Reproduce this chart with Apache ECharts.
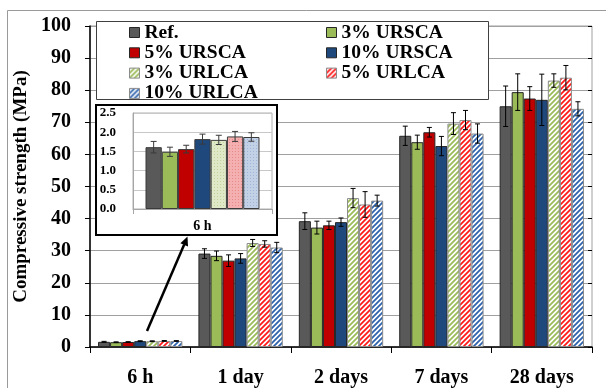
<!DOCTYPE html>
<html>
<head>
<meta charset="utf-8">
<script src="https://cdn.jsdelivr.net/npm/echarts@6/dist/echarts.min.js"></script>
<style>
  html, body { margin: 0; padding: 0; background: #fff; }
  #chart { width: 606px; height: 388px; }
</style>
</head>
<body>
<div id="chart"></div>
<script>
// Curing ages and mixes
const categories = ['6 h', '1 day', '2 days', '7 days', '28 days'];
const insetCategories = ['6 h'];
const seriesNames = ['Ref.', '3% URSCA', '5% URSCA', '10% URSCA', '3% URLCA', '5% URLCA', '10% URLCA'];

// Mean compressive strength (MPa) per age
const refMean   = [1.61, 29.1, 39.2, 65.8, 75.0];
const ursca3    = [1.49, 28.4, 37.2, 63.8, 79.4];
const ursca5    = [1.56, 26.9, 37.9, 66.9, 77.4];
const ursca10   = [1.82, 27.6, 38.9, 62.6, 77.0];
const urlca3    = [1.80, 32.4, 46.4, 69.6, 83.0];
const urlca5    = [1.89, 32.1, 44.4, 70.7, 83.9];
const urlca10   = [1.875, 31.0, 45.6, 66.5, 74.2];

// Standard deviation (MPa) per age
const refSd     = [0.15, 1.5, 2.6, 3.0, 6.3];
const ursca3Sd  = [0.12, 1.5, 2.0, 2.2, 5.7];
const ursca5Sd  = [0.10, 1.8, 1.3, 1.5, 3.7];
const ursca10Sd = [0.13, 1.5, 1.3, 3.0, 8.0];
const urlca3Sd  = [0.12, 1.1, 3.0, 3.4, 2.1];
const urlca5Sd  = [0.13, 1.0, 4.0, 3.0, 3.8];
const urlca10Sd = [0.11, 1.6, 1.7, 3.0, 2.2];

// Tick labels
const mainYTicks  = [0, 10, 20, 30, 40, 50, 60, 70, 80, 90, 100];
const insetYTicks = [0.0, 0.5, 1.0, 1.5, 2.0, 2.5];

const means = [refMean, ursca3, ursca5, ursca10, urlca3, urlca5, urlca10];
const sds   = [refSd, ursca3Sd, ursca5Sd, ursca10Sd, urlca3Sd, urlca5Sd, urlca10Sd];

const FONT = 'Liberation Serif';

// Diagonal "/" hatch on white
function stripes(color) {
  const s = 5;
  const c = document.createElement('canvas');
  c.width = c.height = s;
  const g = c.getContext('2d');
  g.fillStyle = '#fff';
  g.fillRect(0, 0, s, s);
  g.strokeStyle = color;
  g.lineWidth = 1.8;
  g.beginPath();
  g.moveTo(-1, s + 1); g.lineTo(s + 1, -1);
  g.moveTo(-1, 1); g.lineTo(1, -1);
  g.moveTo(s - 1, s + 1); g.lineTo(s + 1, s - 1);
  g.stroke();
  return { image: c, repeat: 'repeat' };
}

// Fine dotted texture for the inset's light fills
function dots(bg, dot) {
  const c = document.createElement('canvas');
  c.width = c.height = 3;
  const g = c.getContext('2d');
  g.fillStyle = bg;
  g.fillRect(0, 0, 3, 3);
  g.fillStyle = dot;
  g.fillRect(1, 1, 1, 1);
  return { image: c, repeat: 'repeat' };
}

const mainFills = [
  '#595959', '#9bbb59', '#c00000', '#1f497d',
  stripes('#9bbb59'), stripes('#ff1a1a'), stripes('#2f64ad')
];
const mainBorders = ['#262626', '#262626', '#262626', '#262626', '#8c8c8c', '#8c8c8c', '#8c8c8c'];
const insetFills = [
  '#595959', '#9bbb59', '#c00000', '#1f497d',
  dots('#dfe9c8', '#c2d39a'), dots('#f4b0b0', '#e88a8a'), dots('#c3d1e6', '#9fb4d6')
];

const MAIN_GAP = 0.16;
const INSET_GAP = 0.18;

function errorRenderer(gap, capHalf, stroke) {
  return function (params, api) {
    const c = api.value(0), s = api.value(1), v = api.value(2), e = api.value(3);
    const catW = api.size([1, 0])[0];
    const groupW = catW * (1 - gap);
    const bw = groupW / seriesNames.length;
    const center = api.coord([c, v]);
    const x = center[0] - groupW / 2 + bw * (s + 0.5);
    const yTop = api.coord([c, v + e])[1];
    const yBot = api.coord([c, v - e])[1];
    const style = { stroke: stroke, lineWidth: 1 };
    return {
      type: 'group',
      children: [
        { type: 'line', shape: { x1: x, y1: yTop, x2: x, y2: yBot }, style },
        { type: 'line', shape: { x1: x - capHalf, y1: yTop, x2: x + capHalf, y2: yTop }, style },
        { type: 'line', shape: { x1: x - capHalf, y1: yBot, x2: x + capHalf, y2: yBot }, style }
      ]
    };
  };
}

const mainErrData = [];
means.forEach((arr, s) => arr.forEach((v, c) => mainErrData.push([c, s, v, sds[s][c]])));
const insetErrData = means.map((arr, s) => [0, s, arr[0], sds[s][0]]);

const series = [];
seriesNames.forEach((name, i) => {
  series.push({
    name: name,
    type: 'bar',
    xAxisIndex: 0, yAxisIndex: 0,
    barGap: '0%',
    barCategoryGap: (MAIN_GAP * 100) + '%',
    data: means[i],
    itemStyle: { color: mainFills[i], borderColor: mainBorders[i], borderWidth: 1 },
    z: 2
  });
});
series.push({
  type: 'custom',
  xAxisIndex: 0, yAxisIndex: 0,
  renderItem: errorRenderer(MAIN_GAP, 2.5, '#000'),
  data: mainErrData,
  encode: { x: 0, y: 2 },
  z: 3,
  silent: true
});
seriesNames.forEach((name, i) => {
  series.push({
    name: name + ' (6 h detail)',
    type: 'bar',
    xAxisIndex: 1, yAxisIndex: 1,
    barGap: '0%',
    barCategoryGap: (INSET_GAP * 100) + '%',
    data: [means[i][0]],
    itemStyle: { color: insetFills[i], borderColor: '#3a3a3a', borderWidth: 1 },
    z: 7
  });
});
series.push({
  type: 'custom',
  xAxisIndex: 1, yAxisIndex: 1,
  renderItem: errorRenderer(INSET_GAP, 3, '#3a3a3a'),
  data: insetErrData,
  encode: { x: 0, y: 2 },
  z: 8,
  silent: true
});

const legendText = { fontFamily: FONT, fontWeight: 'bold', fontSize: 19.5, color: '#000', lineHeight: 19 };
const legendCommon = {
  orient: 'vertical',
  icon: 'rect',
  itemWidth: 10,
  itemHeight: 10,
  itemGap: 0.3,
  padding: 0,
  textStyle: legendText,
  itemStyle: { borderWidth: 1 },
  selectedMode: false
};

const option = {
  animation: false,
  backgroundColor: '#fff',
  grid: [
    { left: 90, right: 14, top: 26, bottom: 38, show: true, borderColor: '#a0a0a0', borderWidth: 1 },
    { left: 133, top: 113, width: 139, height: 96, show: true, borderColor: '#b0b0b0', borderWidth: 1, z: 6 }
  ],
  legend: [
    Object.assign({ left: 129, top: 22.5, data: [seriesNames[0], seriesNames[2], seriesNames[4], seriesNames[6]] }, legendCommon),
    Object.assign({ left: 326, top: 22.5, data: [seriesNames[1], seriesNames[3], seriesNames[5]] }, legendCommon)
  ],
  xAxis: [
    {
      type: 'category', gridIndex: 0, data: categories,
      axisLine: { lineStyle: { color: '#000', width: 1.5 } },
      axisTick: { show: true, length: 6, lineStyle: { color: '#000' } },
      axisLabel: { fontFamily: FONT, fontWeight: 'bold', fontSize: 20, color: '#000', margin: 21 },
      splitLine: { show: false }
    },
    {
      type: 'category', gridIndex: 1, data: insetCategories, z: 6,
      axisLine: { lineStyle: { color: '#a6a6a6' } },
      axisTick: { show: true, length: 5, lineStyle: { color: '#a6a6a6' } },
      axisLabel: { fontFamily: FONT, fontWeight: 'bold', fontSize: 14, color: '#000', margin: 10 },
      splitLine: { show: false }
    }
  ],
  yAxis: [
    {
      type: 'value', gridIndex: 0,
      min: mainYTicks[0], max: mainYTicks[mainYTicks.length - 1],
      interval: mainYTicks[1] - mainYTicks[0],
      name: 'Compressive strength (MPa)',
      nameLocation: 'middle', nameGap: 57,
      nameTextStyle: { fontFamily: FONT, fontWeight: 'bold', fontSize: 19, color: '#000' },
      axisLine: { show: true, lineStyle: { color: '#000', width: 1.5 } },
      axisTick: { show: true, length: 5, lineStyle: { color: '#000' } },
      axisLabel: { fontFamily: FONT, fontWeight: 'bold', fontSize: 20, color: '#000', margin: 19 },
      splitLine: { lineStyle: { color: '#a0a0a0', width: 1 } }
    },
    {
      type: 'value', gridIndex: 1, z: 6,
      min: insetYTicks[0], max: insetYTicks[insetYTicks.length - 1],
      interval: insetYTicks[1] - insetYTicks[0],
      axisLine: { show: true, lineStyle: { color: '#a6a6a6' } },
      axisTick: { show: false },
      axisLabel: {
        fontFamily: FONT, fontWeight: 'bold', fontSize: 13, color: '#000', margin: 17,
        formatter: v => v.toFixed(1)
      },
      splitLine: { lineStyle: { color: '#c8c8c8', width: 1 } }
    },
    {
      // inward half of the crossing y ticks
      type: 'value', gridIndex: 0,
      min: mainYTicks[0], max: mainYTicks[mainYTicks.length - 1],
      interval: mainYTicks[1] - mainYTicks[0],
      axisLine: { show: false },
      axisTick: { show: true, inside: true, length: 4, lineStyle: { color: '#000' } },
      axisLabel: { show: false },
      splitLine: { show: false }
    }
  ],
  graphic: [
    // outer frame
    { type: 'line', shape: { x1: 7.5, y1: 10.5, x2: 606, y2: 10.5 }, style: { stroke: '#9a9a9a', lineWidth: 1 }, z: 1, silent: true },
    { type: 'line', shape: { x1: 7.5, y1: 10.5, x2: 7.5, y2: 388 }, style: { stroke: '#9a9a9a', lineWidth: 1 }, z: 1, silent: true },
    // legend box
    { type: 'rect', shape: { x: 96.5, y: 21.5, width: 392, height: 78 }, style: { fill: '#fff', stroke: '#404040', lineWidth: 1 }, z: 3, silent: true },
    // inset panel
    { type: 'rect', shape: { x: 96, y: 105, width: 181, height: 130 }, style: { fill: '#fff', stroke: '#000', lineWidth: 2 }, z: 5, silent: true },
    // pointer from the 6 h bars to the inset
    { type: 'line', shape: { x1: 147, y1: 331, x2: 184.2, y2: 244.5 }, style: { stroke: '#000', lineWidth: 2.5 }, z: 10, silent: true },
    { type: 'polygon', shape: { points: [[187.5, 236.5], [188.0, 246.5], [180.4, 243.2]] }, style: { fill: '#000' }, z: 10, silent: true }
  ],
  series: series
};

const chart = echarts.init(document.getElementById('chart'), null, { renderer: 'canvas' });
chart.setOption(option);
</script>
</body>
</html>
